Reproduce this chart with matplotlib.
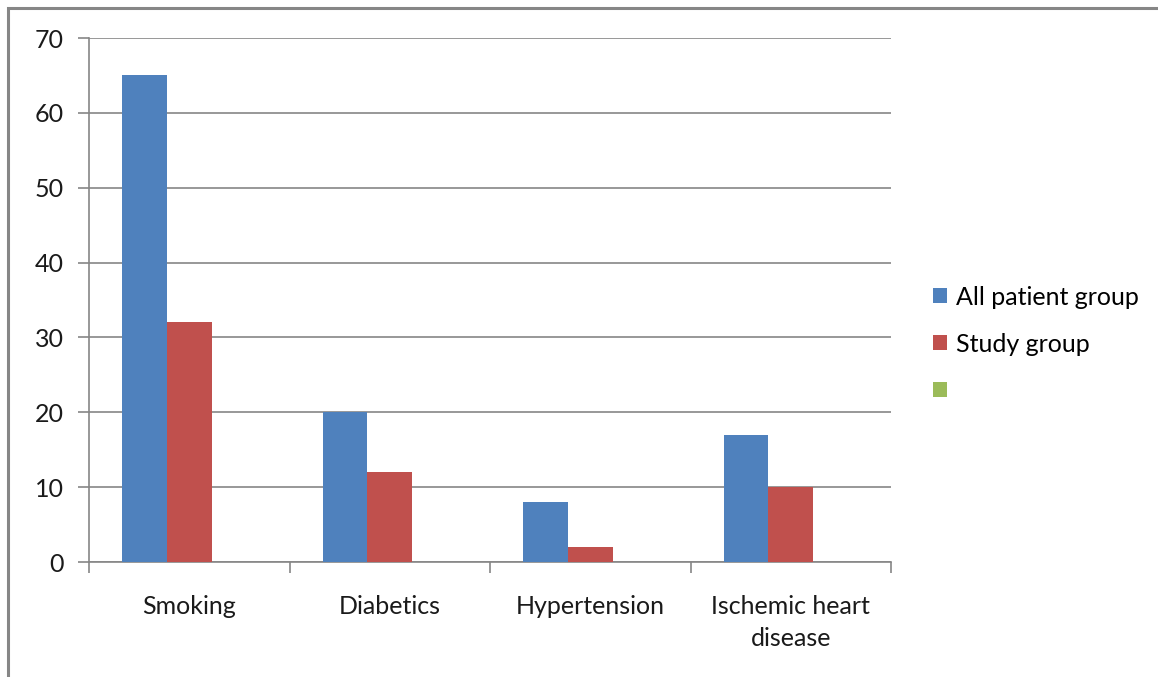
import matplotlib
matplotlib.use("Agg")
import matplotlib.pyplot as plt
from matplotlib.patches import Patch, Rectangle
import numpy as np

categories = ["Smoking", "Diabetics", "Hypertension", "Ischemic heart\ndisease"]
all_patient = [65, 20, 8, 17]
study_group = [32, 12, 2, 10]
third_series = [0, 0, 0, 0]
series_labels = ["All patient group", "Study group", ""]
yticks = [0, 10, 20, 30, 40, 50, 60, 70]

plt.rcParams['font.family'] = ['Lato', 'DejaVu Sans']
FS = 18

fig = plt.figure(figsize=(11.58, 6.77), dpi=100)
ax = fig.add_axes([89/1158, 1-562/677, (891-89)/1158, (562-38)/677])

grey = "#868686"
colors = ["#4F81BD", "#C0504D", "#9BBB59"]
x = np.arange(len(categories))
w = 0.222
for i, (vals, c) in enumerate(zip([all_patient, study_group, third_series], colors)):
    ax.bar(x + (i - 1) * w, vals, width=w, color=c, zorder=3)

ax.set_xlim(-0.5, len(categories) - 0.5)
ax.set_ylim(0, 70)
ax.set_yticks(yticks)
ax.yaxis.grid(True, color=grey, linewidth=1.2, zorder=0)
for s in ["top", "right"]:
    ax.spines[s].set_visible(False)
for s in ["left", "bottom"]:
    ax.spines[s].set_color(grey)
    ax.spines[s].set_linewidth(1.2)

ax.set_xticks(np.arange(len(categories) + 1) - 0.5)
ax.set_xticklabels([])
ax.set_xticks(x, minor=True)
ax.set_xticklabels(categories, minor=True, fontsize=FS, color="#1a1a1a", linespacing=1.45)
ax.tick_params(axis="x", which="major", length=8, color=grey, width=1.2)
ax.tick_params(axis="x", which="minor", length=0, pad=24)
ax.tick_params(axis="y", length=8, color=grey, width=1.2, pad=10, labelsize=FS, labelcolor="#1a1a1a")

handles = [Patch(facecolor=c, edgecolor="none") for c in colors]
fig.legend(handles, series_labels, loc="center left", bbox_to_anchor=(933/1158, 1-344/677),
           frameon=False, fontsize=FS, handlelength=0.55, handleheight=0.55,
           handletextpad=0.35, labelspacing=0.95, borderaxespad=0, borderpad=0)

# outer chart border (partially visible)
fig.add_artist(Rectangle((8/1158, -0.1), 1.2, 1 - 8/677 + 0.1, transform=fig.transFigure,
                         fill=False, edgecolor=grey, linewidth=2.2))

fig.savefig("out.png", dpi=100)
